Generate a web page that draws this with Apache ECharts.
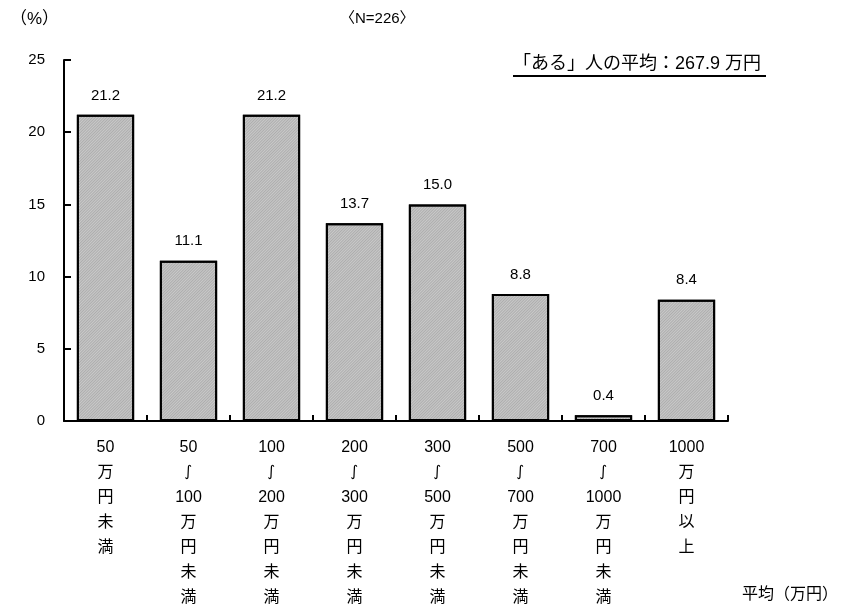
<!DOCTYPE html>
<html>
<head>
<meta charset="utf-8">
<script src="https://cdn.jsdelivr.net/npm/echarts@6/dist/echarts.min.js"></script>
<style>
  html, body { margin: 0; padding: 0; background: #fff; }
  #chart { width: 847px; height: 607px; }
</style>
</head>
<body>
<div id="chart"></div>
<script>
// Income bands (万円), shown as stacked vertical text under each bar
const categories = [
  '50\n万\n円\n未\n満',
  '50\n{w|∫}\n100\n万\n円\n未\n満',
  '100\n{w|∫}\n200\n万\n円\n未\n満',
  '200\n{w|∫}\n300\n万\n円\n未\n満',
  '300\n{w|∫}\n500\n万\n円\n未\n満',
  '500\n{w|∫}\n700\n万\n円\n未\n満',
  '700\n{w|∫}\n1000\n万\n円\n未\n満',
  '1000\n万\n円\n以\n上'
];
// Share of respondents (%)
const shares = [21.2, 11.1, 21.2, 13.7, 15.0, 8.8, 0.4, 8.4];
const yTicks = { min: 0, max: 25, interval: 5 };

const FONT = '"Liberation Sans", "Noto Sans CJK JP", sans-serif';

const chart = echarts.init(document.getElementById('chart'), null, { renderer: 'canvas' });

chart.setOption({
  animation: false,
  backgroundColor: '#ffffff',
  aria: { enabled: true, decal: { show: true } },
  grid: {
    left: 64, right: 119, top: 60, bottom: 186,
    containLabel: false, outerBoundsMode: 'none'
  },
  xAxis: {
    type: 'category',
    data: categories,
    axisLine: { lineStyle: { color: '#000', width: 2 } },
    axisTick: { show: true, inside: true, length: 6, lineStyle: { color: '#000', width: 2 } },
    axisLabel: {
      color: '#000', fontSize: 16, fontFamily: FONT,
      lineHeight: 25, margin: 14, interval: 0,
      rich: {
        w: { fontSize: 15, fontFamily: '"DejaVu Sans", sans-serif', lineHeight: 25, color: '#000' }
      }
    },
    splitLine: { show: false }
  },
  yAxis: {
    type: 'value',
    min: yTicks.min, max: yTicks.max, interval: yTicks.interval,
    axisLine: { show: true, lineStyle: { color: '#000', width: 2 } },
    axisTick: { show: true, inside: true, length: 7, lineStyle: { color: '#000', width: 2 } },
    axisLabel: { color: '#000', fontSize: 15, fontFamily: FONT, margin: 19 },
    splitLine: { show: false }
  },
  series: [{
    type: 'bar',
    data: shares,
    barCategoryGap: '31%',
    itemStyle: {
      color: '#c9c9c9',
      borderColor: '#000',
      borderWidth: 2,
      decal: {
        symbol: 'rect',
        color: 'rgba(110,110,110,0.3)',
        dashArrayX: [1, 0],
        dashArrayY: [1, 1],
        symbolSize: 1,
        rotation: -Math.PI / 4
      }
    },
    label: {
      show: true, position: 'top', distance: 12,
      color: '#000', fontSize: 15, fontFamily: FONT,
      formatter: p => p.value.toFixed(1)
    }
  }],
  graphic: [
    { type: 'text', left: 10, top: 11, style: { text: '（%）', fontSize: 17, fontFamily: FONT, fill: '#000' } },
    { type: 'text', left: 340, top: 11, style: { text: '〈N=226〉', fontSize: 15, fontFamily: FONT, fill: '#000' } },
    { type: 'text', left: 513, top: 55, style: { text: '「ある」人の平均：267.9 万円', fontSize: 18, fontFamily: FONT, fill: '#000' } },
    { type: 'line', shape: { x1: 513, y1: 76, x2: 766, y2: 76 }, style: { stroke: '#000', lineWidth: 2 } },
    { type: 'text', left: 742, top: 587, style: { text: '平均（万円）', fontSize: 16, fontFamily: FONT, fill: '#000' } }
  ]
});
</script>
</body>
</html>
